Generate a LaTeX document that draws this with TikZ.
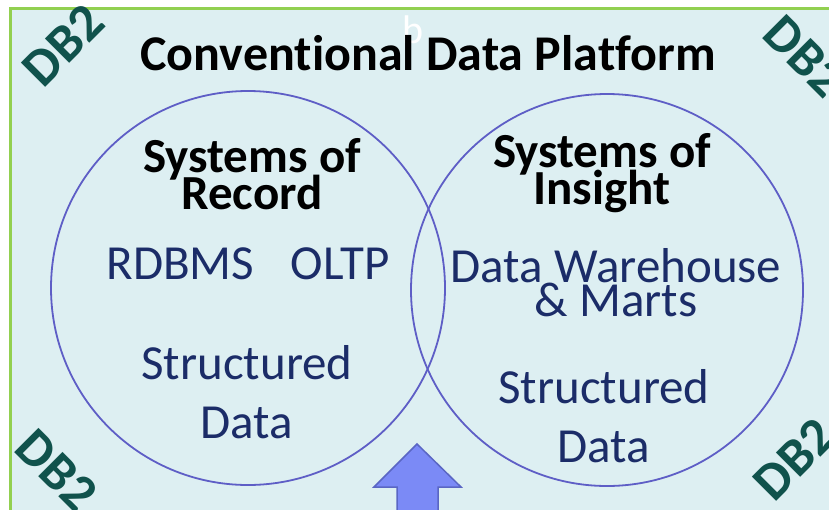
\documentclass[tikz,border=0pt]{standalone}
\usepackage{fontspec}
\setmainfont{Carlito}[Ligatures=NoCommon]
\definecolor{bgblue}{HTML}{DDEFF2}
\definecolor{framegreen}{HTML}{92D050}
\definecolor{dbteal}{HTML}{10524C}
\definecolor{ringblue}{HTML}{5E5EC6}
\definecolor{navy}{HTML}{1B2C68}
\definecolor{arrowfill}{HTML}{7B8AF6}
\definecolor{arrowline}{HTML}{5A66C4}
\tikzset{
  ring/.style={draw=ringblue, line width=1.8pt},
  dblabel/.style={text=dbteal, font=\fontsize{53}{53}\selectfont\bfseries, inner sep=0pt},
  headlabel/.style={font=\fontsize{49}{33}\selectfont\bfseries, align=center, inner sep=0pt},
  bodylabel/.style={text=navy, font=\fontsize{49}{34}\selectfont, align=center, inner sep=0pt},
}
\begin{document}
\begin{tikzpicture}[x=1pt,y=-1pt]
\useasboundingbox (0,0) rectangle (829,509);
\fill[white] (0,0) rectangle (829,509);
\fill[bgblue] (10,8) rectangle (835,515);
\draw[framegreen, line width=3pt] (10,515) -- (10,8) -- (835,8);
% DB2 watermarks
\node[dblabel, rotate=45] (db1) at (63,45) {DB2};
\node[dblabel, rotate=-45] (db2) at (805,56) {DB2};
\node[dblabel, rotate=-45] (db3) at (57,470) {DB2};
\node[dblabel, rotate=45] (db4) at (794,459) {DB2};
% white b
\node[text=white, font=\fontsize{40}{40}\selectfont, inner sep=0pt] (bb) at (413,30) {b};
% title
\node[font=\fontsize{50}{50}\selectfont\bfseries, inner sep=0pt] (title) at (428,53) {Conventional Data Platform};
% circles
\node[ring, circle, minimum size=394pt, inner sep=0pt] (left) at (248,288) {};
\node[ring, circle, minimum size=392pt, inner sep=0pt] (right) at (607,290) {};
% left texts
\node[headlabel] (sor) at (252,174) {Systems of\\[-6pt]Record};
\node[bodylabel] (rdb) at (248,264) {RDBMS\hspace{0.75em}OLTP};
\node[bodylabel] (sd1) at (247,392) {Structured\\[25pt]Data};
% right texts
\node[headlabel] (soi) at (602,173) {Systems of\\[-6pt]Insight};
\node[bodylabel] (dw) at (616,283) {Data Warehouse\\\& Marts};
\node[bodylabel] (sd2) at (604,416) {Structured\\[25pt]Data};
% arrow
\draw[arrowline, fill=arrowfill, line width=1.5pt, line join=miter]
  (397,515) -- (397,487) -- (374,487) -- (417,444) -- (461,487) -- (438,487) -- (438,515) -- cycle;
\end{tikzpicture}
\end{document}
